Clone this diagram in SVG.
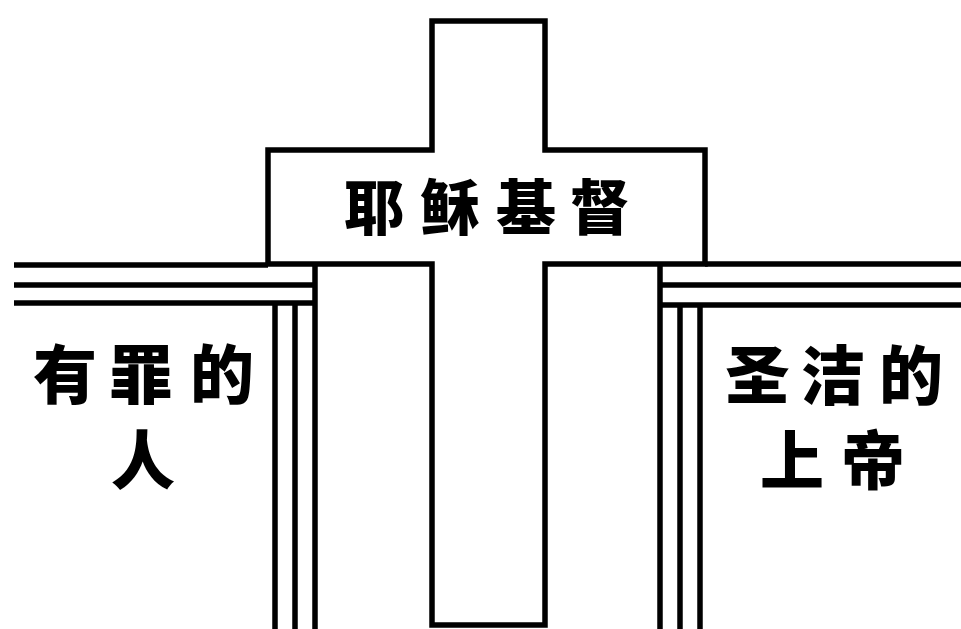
<svg xmlns="http://www.w3.org/2000/svg" width="961" height="629" viewBox="0 0 961 629">
<style>
.ln{fill:none;stroke:#000;stroke-width:5.5;stroke-linecap:butt;stroke-linejoin:miter}
.t{font-family:"Noto Sans CJK SC","Noto Sans CJK TC",sans-serif;font-weight:900;fill:#000;text-anchor:middle}
</style>
<rect width="961" height="629" fill="#fff"/>
<g id="cross">
<path class="ln" d="M432,625 V264 H268 V150 H432 V21 H545 V150 H705 V264 H545 V625 Z"/>
<text class="t" font-size="60" x="374 450 526 600" y="230">耶稣基督</text>
</g>
<g id="left-cliff">
<path class="ln" d="M14,265 H268 M14,285 H315 M14,303 H315 M315,263 V629 M295,303 V629 M275,303 V629"/>
<text class="t" font-size="64" x="65 141 222" y="398">有罪的</text>
<text class="t" font-size="64" x="143" y="484">人</text>
</g>
<g id="right-cliff">
<path class="ln" d="M705,264 H961 M660,285 H961 M660,305 H961 M660,263 V629 M680,305 V629 M700,305 V629"/>
<text class="t" font-size="64" x="757 833 911" y="399">圣洁的</text>
<text class="t" font-size="64" x="792 873" y="484">上帝</text>
</g>
</svg>
